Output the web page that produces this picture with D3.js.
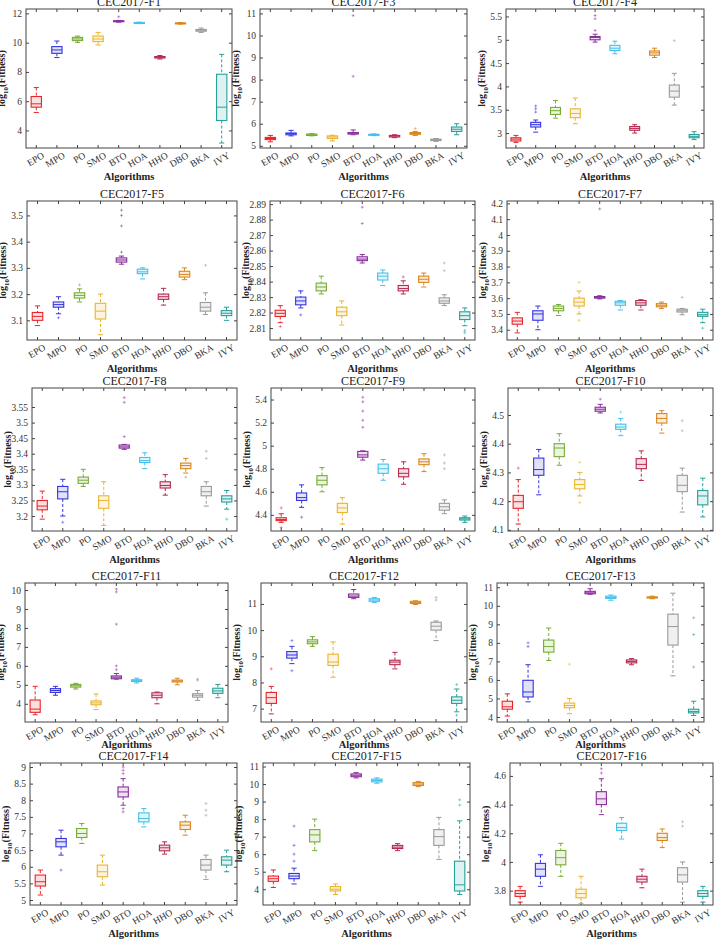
<!DOCTYPE html>
<html>
<head>
<meta charset="utf-8">
<script src="https://cdn.jsdelivr.net/npm/d3@7"></script>
<style>
  body { margin: 0; background: #fff; }
  svg text { font-family: 'Liberation Serif', 'DejaVu Serif', serif; }
</style>
</head>
<body>
<div class="boxgrid"></div>
<script>
const algorithms = ['EPO', 'MPO', 'PO', 'SMO', 'BTO', 'HOA', 'HHO', 'DBO', 'BKA', 'IVY'];
const colors = ['#e8262a', '#3535e0', '#77ac35', '#e9b52e', '#8a2e9c', '#45c0ea', '#b72a50', '#d9861c', '#9a9a9a', '#25a199'];

// each row: [whisker low, q1, median, q3, whisker high], one row per algorithm
const f1Stats = [[5.23, 5.59, 5.82, 6.32, 6.93], [8.98, 9.27, 9.5, 9.73, 10.11], [10.02, 10.14, 10.25, 10.36, 10.45], [9.84, 10.07, 10.25, 10.45, 10.7], [11.4, 11.43, 11.46, 11.5, 11.52], [11.3, 11.32, 11.35, 11.38, 11.4], [8.88, 8.95, 9.0, 9.05, 9.12], [11.27, 11.29, 11.32, 11.35, 11.37], [10.7, 10.78, 10.85, 10.9, 11.0], [3.14, 4.68, 5.59, 7.84, 9.2]];
const f1Outliers = [[], [], [], [], [11.77], [], [], [], [], []];
const f3Stats = [[5.18, 5.28, 5.33, 5.38, 5.47], [5.45, 5.5, 5.55, 5.58, 5.7], [5.45, 5.47, 5.5, 5.53, 5.55], [5.22, 5.33, 5.4, 5.45, 5.48], [5.5, 5.53, 5.57, 5.6, 5.72], [5.46, 5.48, 5.5, 5.52, 5.54], [5.37, 5.4, 5.44, 5.47, 5.5], [5.47, 5.52, 5.56, 5.6, 5.65], [5.2, 5.24, 5.27, 5.3, 5.33], [5.5, 5.65, 5.75, 5.85, 6.0]];
const f3Outliers = [[], [], [], [], [8.15, 10.9], [], [], [5.78], [], []];
const f4Stats = [[2.8, 2.83, 2.87, 2.9, 2.95], [3.02, 3.13, 3.18, 3.23, 3.28], [3.32, 3.4, 3.48, 3.55, 3.7], [3.2, 3.33, 3.42, 3.52, 3.75], [4.95, 5.0, 5.05, 5.07, 5.12], [4.7, 4.77, 4.82, 4.88, 4.97], [3.0, 3.06, 3.1, 3.14, 3.18], [4.62, 4.67, 4.72, 4.76, 4.82], [3.6, 3.77, 3.9, 4.03, 4.28], [2.86, 2.9, 2.93, 2.97, 3.03]];
const f4Outliers = [[], [3.45, 3.52, 3.58], [], [], [5.2, 5.45, 5.52], [], [], [], [4.98], []];
const f5Stats = [[3.08, 3.1, 3.115, 3.13, 3.155], [3.125, 3.15, 3.16, 3.17, 3.19], [3.17, 3.185, 3.195, 3.205, 3.22], [3.045, 3.105, 3.135, 3.165, 3.2], [3.314, 3.322, 3.33, 3.338, 3.345], [3.258, 3.278, 3.285, 3.295, 3.3], [3.158, 3.18, 3.19, 3.2, 3.222], [3.255, 3.265, 3.275, 3.287, 3.3], [3.122, 3.135, 3.15, 3.168, 3.205], [3.1, 3.118, 3.127, 3.137, 3.15]];
const f5Outliers = [[], [3.11], [3.235], [], [3.36, 3.46, 3.5, 3.52], [], [], [], [3.31], []];
const f6Stats = [[2.8135, 2.8175, 2.8195, 2.8215, 2.8245], [2.823, 2.825, 2.8275, 2.83, 2.834], [2.832, 2.834, 2.8365, 2.839, 2.8435], [2.812, 2.818, 2.8205, 2.8235, 2.8275], [2.852, 2.8535, 2.8545, 2.856, 2.8575], [2.8375, 2.841, 2.8435, 2.8455, 2.8475], [2.832, 2.834, 2.8355, 2.8375, 2.8405], [2.8365, 2.8395, 2.8415, 2.8435, 2.8455], [2.8245, 2.826, 2.8275, 2.8295, 2.8315], [2.8115, 2.8155, 2.818, 2.8205, 2.823]];
const f6Outliers = [[2.811], [2.8185], [], [], [2.8775, 2.888], [], [2.843], [], [2.847, 2.852], [2.807, 2.8085]];
const f7Stats = [[3.38, 3.435, 3.455, 3.475, 3.51], [3.4, 3.46, 3.5, 3.52, 3.55], [3.49, 3.52, 3.535, 3.55, 3.56], [3.5, 3.55, 3.575, 3.6, 3.645], [3.595, 3.6, 3.605, 3.61, 3.615], [3.525, 3.555, 3.57, 3.58, 3.585], [3.525, 3.555, 3.57, 3.585, 3.59], [3.535, 3.545, 3.555, 3.565, 3.575], [3.495, 3.512, 3.52, 3.53, 3.535], [3.445, 3.485, 3.495, 3.51, 3.53]];
const f7Outliers = [[], [], [], [3.46, 3.7], [4.165], [], [], [], [3.605], [3.41]];
const f8Stats = [[3.19, 3.22, 3.232, 3.25, 3.28], [3.2, 3.255, 3.278, 3.295, 3.318], [3.295, 3.305, 3.315, 3.325, 3.35], [3.17, 3.225, 3.25, 3.265, 3.31], [3.414, 3.418, 3.422, 3.428, 3.43], [3.352, 3.372, 3.378, 3.388, 3.403], [3.267, 3.29, 3.298, 3.31, 3.333], [3.338, 3.352, 3.362, 3.37, 3.385], [3.232, 3.265, 3.278, 3.295, 3.31], [3.222, 3.245, 3.255, 3.265, 3.282]];
const f8Outliers = [[], [3.18], [], [], [3.455, 3.565, 3.58], [], [], [3.325], [3.385, 3.408], [3.19]];
const f9Stats = [[4.335, 4.35, 4.36, 4.375, 4.41], [4.465, 4.525, 4.55, 4.59, 4.66], [4.6, 4.66, 4.7, 4.74, 4.81], [4.32, 4.42, 4.46, 4.5, 4.55], [4.875, 4.9, 4.92, 4.95, 4.955], [4.7, 4.76, 4.8, 4.84, 4.88], [4.665, 4.73, 4.76, 4.8, 4.86], [4.775, 4.835, 4.86, 4.885, 4.93], [4.41, 4.44, 4.47, 4.5, 4.53], [4.335, 4.355, 4.365, 4.375, 4.39]];
const f9Outliers = [[4.29, 4.46], [4.38], [], [], [5.16, 5.22, 5.3, 5.38, 5.42], [], [], [], [4.8, 4.85, 4.92], []];
const f10Stats = [[4.12, 4.175, 4.198, 4.22, 4.275], [4.222, 4.29, 4.31, 4.35, 4.38], [4.325, 4.355, 4.385, 4.4, 4.435], [4.218, 4.243, 4.258, 4.275, 4.3], [4.507, 4.513, 4.52, 4.527, 4.537], [4.428, 4.45, 4.458, 4.468, 4.488], [4.272, 4.313, 4.328, 4.348, 4.375], [4.437, 4.472, 4.488, 4.505, 4.515], [4.162, 4.233, 4.255, 4.29, 4.315], [4.145, 4.187, 4.218, 4.237, 4.28]];
const f10Outliers = [[4.315], [], [], [4.195, 4.335], [4.555], [4.51], [], [], [4.445, 4.48], []];
const f11Stats = [[3.42, 3.55, 3.72, 4.2, 4.92], [4.45, 4.6, 4.7, 4.8, 4.92], [4.78, 4.88, 4.95, 5.02, 5.08], [3.7, 3.95, 4.05, 4.15, 4.52], [5.3, 5.32, 5.4, 5.47, 5.6], [5.1, 5.18, 5.22, 5.27, 5.35], [4.0, 4.32, 4.45, 4.58, 4.62], [5.0, 5.15, 5.2, 5.25, 5.35], [4.18, 4.35, 4.45, 4.53, 4.7], [4.32, 4.55, 4.68, 4.82, 5.02]];
const f11Outliers = [[], [], [], [], [5.8, 6.0, 8.2, 9.9, 10.05], [], [], [], [5.25, 5.3], []];
const f12Stats = [[6.8, 7.2, 7.42, 7.62, 7.85], [8.72, 8.93, 9.05, 9.18, 9.38], [9.38, 9.48, 9.55, 9.63, 9.75], [8.2, 8.65, 8.78, 9.08, 9.55], [11.2, 11.25, 11.3, 11.38, 11.55], [11.05, 11.1, 11.15, 11.2, 11.25], [8.52, 8.68, 8.78, 8.85, 9.15], [10.98, 11.02, 11.05, 11.1, 11.12], [9.6, 10.0, 10.15, 10.3, 10.35], [6.88, 7.2, 7.32, 7.45, 7.75]];
const f12Outliers = [[8.52], [8.45, 9.6], [], [], [], [], [], [], [11.15, 11.25], [6.75, 7.92]];
const f13Stats = [[4.05, 4.42, 4.55, 4.85, 5.25], [4.82, 5.08, 5.35, 5.98, 6.82], [7.05, 7.5, 7.8, 8.15, 8.8], [4.18, 4.5, 4.62, 4.75, 5.0], [10.62, 10.65, 10.7, 10.78, 10.92], [10.3, 10.4, 10.45, 10.52, 10.58], [6.82, 6.92, 7.0, 7.08, 7.15], [10.38, 10.42, 10.45, 10.48, 10.52], [6.22, 7.88, 8.88, 9.55, 10.68], [4.08, 4.22, 4.3, 4.42, 4.85]];
const f13Outliers = [[], [7.8, 8.0], [], [6.85], [], [], [], [], [], [6.7, 8.45, 9.35]];
const f14Stats = [[5.15, 5.42, 5.55, 5.75, 5.9], [6.35, 6.6, 6.75, 6.85, 7.1], [6.7, 6.88, 7.0, 7.15, 7.3], [5.45, 5.7, 5.85, 6.05, 6.35], [7.85, 8.1, 8.25, 8.4, 8.65], [7.2, 7.35, 7.45, 7.62, 7.75], [6.38, 6.48, 6.57, 6.65, 6.75], [6.95, 7.12, 7.25, 7.35, 7.55], [5.62, 5.9, 6.05, 6.22, 6.35], [5.85, 6.05, 6.2, 6.3, 6.5]];
const f14Outliers = [[], [5.9], [], [], [7.65, 7.75, 8.8, 8.9, 9.0], [], [], [], [7.55, 7.7, 7.9], []];
const f15Stats = [[4.1, 4.45, 4.6, 4.75, 5.1], [4.3, 4.6, 4.75, 4.9, 5.2], [6.2, 6.7, 7.1, 7.4, 8.0], [3.7, 3.9, 4.0, 4.15, 4.3], [10.35, 10.42, 10.5, 10.58, 10.65], [10.05, 10.12, 10.2, 10.28, 10.35], [6.2, 6.32, 6.4, 6.5, 6.6], [9.85, 9.92, 10.0, 10.08, 10.15], [5.7, 6.5, 7.0, 7.4, 8.1], [3.7, 3.9, 4.25, 5.6, 7.9]];
const f15Outliers = [[], [5.6, 6.0, 6.5, 7.6], [], [], [], [], [], [], [], [8.8, 9.1]];
const f16Stats = [[3.72, 3.76, 3.78, 3.8, 3.83], [3.83, 3.9, 3.95, 3.99, 4.05], [3.9, 3.98, 4.03, 4.08, 4.13], [3.71, 3.75, 3.78, 3.81, 3.9], [4.33, 4.4, 4.44, 4.49, 4.58], [4.16, 4.22, 4.24, 4.27, 4.31], [3.82, 3.86, 3.88, 3.9, 3.95], [4.1, 4.15, 4.17, 4.2, 4.23], [3.72, 3.86, 3.91, 3.96, 4.0], [3.72, 3.76, 3.78, 3.8, 3.83]];
const f16Outliers = [[], [], [], [], [4.62, 4.65], [], [], [], [4.25, 4.28], []];

const titles = ['CEC2017-F1', 'CEC2017-F3', 'CEC2017-F4', 'CEC2017-F5', 'CEC2017-F6', 'CEC2017-F7', 'CEC2017-F8', 'CEC2017-F9', 'CEC2017-F10', 'CEC2017-F11', 'CEC2017-F12', 'CEC2017-F13', 'CEC2017-F14', 'CEC2017-F15', 'CEC2017-F16'];
const domains = [[2.8, 12.3], [4.9, 11.2], [2.68, 5.66], [3.025, 3.555], [2.8023, 2.892], [3.335, 4.215], [3.152, 3.611], [4.26, 5.5], [4.096, 4.594], [3.04, 10.37], [6.49, 11.8], [3.73, 11.23], [4.85, 9.12], [3.1, 11.2], [3.7, 4.69]];
const yTicks = [
  [4, 6, 8, 10, 12],
  [5, 6, 7, 8, 9, 10, 11],
  [3, 3.5, 4, 4.5, 5, 5.5],
  [3.1, 3.2, 3.3, 3.4, 3.5],
  [2.81, 2.82, 2.83, 2.84, 2.85, 2.86, 2.87, 2.88, 2.89],
  [3.4, 3.5, 3.6, 3.7, 3.8, 3.9, 4, 4.1, 4.2],
  [3.2, 3.25, 3.3, 3.35, 3.4, 3.45, 3.5, 3.55],
  [4.4, 4.6, 4.8, 5, 5.2, 5.4],
  [4.1, 4.2, 4.3, 4.4, 4.5],
  [4, 5, 6, 7, 8, 9, 10],
  [7, 8, 9, 10, 11],
  [4, 5, 6, 7, 8, 9, 10, 11],
  [5, 5.5, 6, 6.5, 7, 7.5, 8, 8.5, 9],
  [4, 5, 6, 7, 8, 9, 10, 11],
  [3.8, 4, 4.2, 4.4, 4.6]
];
const stats = [f1Stats, f3Stats, f4Stats, f5Stats, f6Stats, f7Stats, f8Stats, f9Stats, f10Stats, f11Stats, f12Stats, f13Stats, f14Stats, f15Stats, f16Stats];
const outliers = [f1Outliers, f3Outliers, f4Outliers, f5Outliers, f6Outliers, f7Outliers, f8Outliers, f9Outliers, f10Outliers, f11Outliers, f12Outliers, f13Outliers, f14Outliers, f15Outliers, f16Outliers];

// plot frames in page pixels: [left, top, right, bottom]
const frames = [
  [26, 9, 232, 148], [260, 9, 467, 148], [506, 9, 704, 148],
  [27, 201, 237, 340], [270, 201, 475, 340], [507, 201, 713, 340],
  [32, 388, 237, 531], [271, 388, 475, 531], [508, 388, 713, 531],
  [25, 583, 228, 722], [261, 583, 467, 722], [497, 583, 704, 722],
  [30, 763, 237, 905], [263, 763, 470, 905], [510, 763, 713, 905]
];

const svg = d3.select('.boxgrid')
  .append('svg')
  .attr('width', 716)
  .attr('height', 945);

titles.forEach((title, p) => {
  const [x0, y0, x1, y1] = frames[p];
  const w = x1 - x0;
  const h = y1 - y0;
  const g = svg.append('g').attr('transform', `translate(${x0},${y0})`);

  const x = d3.scaleBand().domain(algorithms).range([0, w]);
  const y = d3.scaleLinear().domain(domains[p]).range([h, 0]);
  const bw = x.bandwidth() * 0.5;

  // axes, ticks pointing inwards on all four sides
  g.append('g')
    .call(d3.axisLeft(y).tickValues(yTicks[p]).tickFormat(d => d).tickSizeInner(-3).tickSizeOuter(0).tickPadding(4));
  g.append('g').attr('transform', `translate(${w},0)`)
    .call(d3.axisRight(y).tickValues(yTicks[p]).tickFormat('').tickSizeInner(-3).tickSizeOuter(0));
  g.append('g')
    .call(d3.axisTop(x).tickFormat('').tickSizeInner(-3).tickSizeOuter(0));
  const bottom = g.append('g').attr('transform', `translate(0,${h})`)
    .call(d3.axisBottom(x).tickSizeInner(-3).tickSizeOuter(0).tickPadding(4));

  bottom.selectAll('text')
    .attr('transform', 'rotate(-30)')
    .attr('text-anchor', 'end')
    .attr('dx', '0.3em')
    .attr('dy', '0.9em');

  g.selectAll('.domain').remove();
  g.selectAll('.tick line').attr('stroke', '#444');
  g.selectAll('.tick text').attr('fill', '#333').attr('font-size', 9.5).attr('font-family', "'Liberation Serif', serif");

  g.append('rect')
    .attr('width', w)
    .attr('height', h)
    .attr('fill', 'none')
    .attr('stroke', '#444')
    .attr('stroke-width', 1);

  g.append('text')
    .attr('x', w / 2)
    .attr('y', -3)
    .attr('text-anchor', 'middle')
    .attr('font-size', 12)
    .attr('fill', '#222')
    .text(title);

  // the fourth row sits close to the fifth, so its axis name is tucked up
  const nameOffset = (p >= 9 && p < 12) ? 26 : 32;
  g.append('text')
    .attr('x', w / 2)
    .attr('y', h + nameOffset)
    .attr('text-anchor', 'middle')
    .attr('font-size', 10.5)
    .attr('font-weight', 'bold')
    .attr('fill', '#222')
    .text('Algorithms');

  const ylab = g.append('text')
    .attr('transform', `translate(-21,${h / 2}) rotate(-90)`)
    .attr('text-anchor', 'middle')
    .attr('font-size', 10)
    .attr('font-weight', 'bold')
    .attr('fill', '#222');
  ylab.append('tspan').text('log');
  ylab.append('tspan').attr('font-size', 7).attr('dy', 3).text('10');
  ylab.append('tspan').attr('dy', -3).text('(Fitness)');

  stats[p].forEach((s, i) => {
    const [lo, q1, med, q3, hi] = s;
    const cx = x(algorithms[i]) + x.bandwidth() / 2;
    const c = colors[i];
    const b = g.append('g');

    b.append('line')
      .attr('x1', cx).attr('x2', cx)
      .attr('y1', y(hi)).attr('y2', y(q3))
      .attr('stroke', c).attr('stroke-dasharray', '3,2');
    b.append('line')
      .attr('x1', cx).attr('x2', cx)
      .attr('y1', y(q1)).attr('y2', y(lo))
      .attr('stroke', c).attr('stroke-dasharray', '3,2');

    [lo, hi].forEach(v => {
      b.append('line')
        .attr('x1', cx - bw / 4).attr('x2', cx + bw / 4)
        .attr('y1', y(v)).attr('y2', y(v))
        .attr('stroke', c);
    });

    b.append('rect')
      .attr('x', cx - bw / 2)
      .attr('y', y(q3))
      .attr('width', bw)
      .attr('height', Math.max(y(q1) - y(q3), 1))
      .attr('fill', c)
      .attr('fill-opacity', 0.15)
      .attr('stroke', c)
      .attr('stroke-width', 1.1);

    b.append('line')
      .attr('x1', cx - bw / 2).attr('x2', cx + bw / 2)
      .attr('y1', y(med)).attr('y2', y(med))
      .attr('stroke', c);

    outliers[p][i].forEach(v => {
      b.append('path')
        .attr('d', `M${cx - 1.5},${y(v)}h3M${cx},${y(v) - 1.5}v3`)
        .attr('stroke', c)
        .attr('stroke-opacity', 0.6)
        .attr('stroke-width', 0.8);
    });
  });
});
</script>
</body>
</html>
